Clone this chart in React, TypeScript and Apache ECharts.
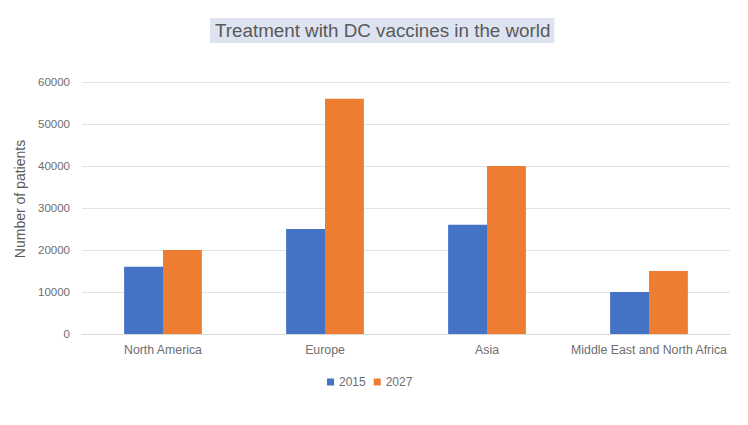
import React, { useEffect, useRef } from "react";
import * as echarts from "echarts";

const categories = ["North America", "Europe", "Asia", "Middle East and North Africa"];
const series2015 = [16000, 25000, 26000, 10000];
const series2027 = [20000, 56000, 40000, 15000];
const seriesNames = ["2015", "2027"];

export default function App() {
  const ref = useRef<HTMLDivElement>(null);
  useEffect(() => {
    if (!ref.current) return;
    const chart = echarts.init(ref.current, undefined, { renderer: "svg" });
    const textColor = "#595959";
    const labelColor = "#6e6e6e";
    chart.setOption({
      animation: false,
      backgroundColor: "#ffffff",
      textStyle: { fontFamily: "Liberation Sans, Arial, sans-serif" },
      title: {
        text: "Treatment with DC vaccines in the world",
        left: 210,
        top: 18,
        padding: [3, 4, 3, 5],
        backgroundColor: "#dde3f0",
        textStyle: {
          color: textColor,
          fontSize: 18.8,
          fontWeight: "normal",
        },
      },
      legend: {
        data: seriesNames,
        bottom: 32,
        left: 322,
        itemWidth: 7,
        itemHeight: 7,
        itemGap: 8,
        icon: "rect",
        textStyle: { color: labelColor, fontSize: 12 },
      },
      grid: { left: 82, right: 18, top: 82, bottom: 91 },
      xAxis: {
        type: "category",
        data: categories,
        axisLine: { lineStyle: { color: "#d9d9d9" } },
        axisTick: { show: false },
        axisLabel: { color: labelColor, fontSize: 12.3, margin: 10, interval: 0 },
      },
      yAxis: {
        type: "value",
        min: 0,
        max: 60000,
        interval: 10000,
        name: "Number of patients",
        nameLocation: "middle",
        nameGap: 54,
        nameTextStyle: { color: textColor, fontSize: 14, padding: [0, 0, 0, 18] },
        axisLabel: {
          color: labelColor,
          fontSize: 11.5,
          margin: 12,
          formatter: (v: number) => String(v),
        },
        axisLine: { show: false },
        axisTick: { show: false },
        splitLine: { lineStyle: { color: "#e3e3e3" } },
      },
      series: [
        {
          name: seriesNames[0],
          type: "bar",
          data: series2015,
          itemStyle: { color: "#4472C4" },
          barGap: "0%",
          barCategoryGap: "52%",
        },
        {
          name: seriesNames[1],
          type: "bar",
          data: series2027,
          itemStyle: { color: "#ED7D31" },
          barGap: "0%",
          barCategoryGap: "52%",
        },
      ],
    });
    return () => chart.dispose();
  }, []);
  return (
    <div
      ref={ref}
      style={{ position: "fixed", left: 0, top: 0, width: 748, height: 425 }}
    />
  );
}
